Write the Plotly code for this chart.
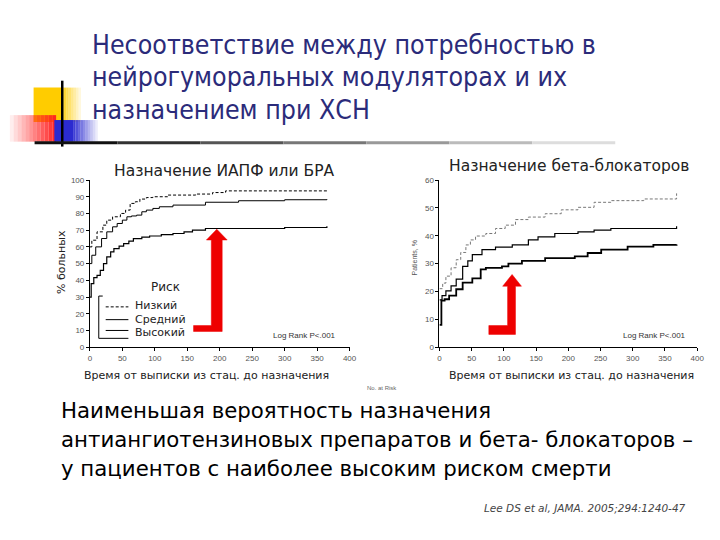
import plotly.graph_objects as go

# --- data (days, % patients) ---
acei_days_low = [0, 3, 11, 20, 26, 35, 47, 55, 62, 70, 77, 87, 97, 120, 163, 189, 209, 365]
acei_low = [60, 64, 69, 73, 76, 78, 80, 82, 86, 87, 88.6, 89.5, 90, 91, 91.6, 92.5, 93.5, 93.5]

acei_days_mid = [0, 3, 9, 18, 26, 35, 42, 50, 57, 64, 72, 80, 87, 97, 107, 128, 178, 229, 300, 365]
acei_mid = [50, 55, 60, 65, 69, 72, 74, 76, 78, 78.5, 79, 81, 82, 83, 84, 85, 86.7, 87.6, 88.2, 88.6]

acei_days_high = [0, 2, 6, 11, 16, 21, 26, 32, 37, 45, 52, 60, 67, 80, 92, 110, 128, 145, 158, 178, 229, 300, 365]
acei_high = [30, 38, 41.6, 43, 46, 50, 54, 57, 59, 60.5, 62, 63.5, 65, 65.8, 66.5, 67.3, 68, 69, 70, 71, 71, 71.6, 72.4]

bb_days_low = [0, 5, 10, 18, 26, 33, 41, 48, 56, 72, 87, 102, 118, 138, 164, 189, 215, 240, 266, 317, 368]
bb_low = [21, 23, 25.5, 28.5, 31.4, 34, 36.7, 38.5, 39.9, 40.8, 42.6, 43.8, 45.8, 46.7, 47.9, 49.3, 50.2, 52, 52.6, 53.2, 55.2]

bb_days_mid = [0, 4, 10, 18, 26, 36, 44, 51, 66, 87, 113, 138, 153, 179, 215, 240, 266, 353, 368]
bb_mid = [17, 18.5, 20.2, 22, 24.4, 29, 31, 33.2, 35, 35.9, 36.7, 38.5, 39.6, 40.8, 41.4, 42, 42.6, 42.6, 43.4]

bb_days_high = [0, 3, 8, 15, 26, 36, 51, 64, 72, 97, 107, 128, 164, 210, 230, 251, 292, 332, 368]
bb_high = [8, 16.7, 17.2, 18.5, 20.8, 23.2, 24.7, 27.9, 28.5, 29, 30, 31, 32, 32.6, 33.8, 35, 36.1, 36.7, 36.9]

risk_labels = ["Низкий", "Средний", "Высокий"]

W, H = 720, 540


def px(x):
    return x / W


def py(y):
    return 1 - y / H


fig = go.Figure()

# left chart: ACE inhibitors / ARB
fig.add_trace(go.Scatter(x=acei_days_low, y=acei_low, mode="lines", line_shape="hv",
                         line=dict(color="black", width=1, dash="3px,2px"), name=risk_labels[0],
                         xaxis="x", yaxis="y"))
fig.add_trace(go.Scatter(x=acei_days_mid, y=acei_mid, mode="lines", line_shape="hv",
                         line=dict(color="black", width=1), name=risk_labels[1],
                         xaxis="x", yaxis="y"))
fig.add_trace(go.Scatter(x=acei_days_high, y=acei_high, mode="lines", line_shape="hv",
                         line=dict(color="black", width=1.2), name=risk_labels[2],
                         xaxis="x", yaxis="y"))

# right chart: beta-blockers
fig.add_trace(go.Scatter(x=bb_days_low, y=bb_low, mode="lines", line_shape="hv",
                         line=dict(color="#777777", width=1, dash="3px,2px"), name=risk_labels[0],
                         xaxis="x2", yaxis="y2"))
fig.add_trace(go.Scatter(x=bb_days_mid, y=bb_mid, mode="lines", line_shape="hv",
                         line=dict(color="black", width=1.2), name=risk_labels[1],
                         xaxis="x2", yaxis="y2"))
fig.add_trace(go.Scatter(x=bb_days_high, y=bb_high, mode="lines", line_shape="hv",
                         line=dict(color="black", width=1.8), name=risk_labels[2],
                         xaxis="x2", yaxis="y2"))

tickfont = dict(family="Liberation Sans, Arial", size=8, color="#555555")
axis_common = dict(showline=True, linecolor="black", linewidth=1, ticks="outside",
                   ticklen=3, tickcolor="black", showgrid=False, zeroline=False,
                   tickfont=tickfont)

shapes = []

# slide decoration in the top-left corner (gradients as strips)
shapes.append(dict(type="rect", xref="paper", yref="paper", x0=px(32), x1=px(60), y0=py(120), y1=py(85),
                   fillcolor="#ffcc00", line_width=0, layer="below"))
for i in range(8):
    shapes.append(dict(type="rect", xref="paper", yref="paper", x0=px(60 + i * 2.5), x1=px(62.5 + i * 2.5),
                       y0=py(120), y1=py(85), fillcolor="#ffcc00", opacity=0.9 - i * 0.11,
                       line_width=0, layer="below"))
for i in range(12):
    shapes.append(dict(type="rect", xref="paper", yref="paper", x0=px(8 + i * 3.9), x1=px(11.9 + i * 3.9),
                       y0=py(140), y1=py(113), fillcolor="#ff2020", opacity=0.08 + i * 0.08,
                       line_width=0, layer="below"))
shapes.append(dict(type="rect", xref="paper", yref="paper", x0=px(53), x1=px(72), y0=py(140), y1=py(118),
                   fillcolor="#2b2bd0", line_width=0, layer="below"))
for i in range(10):
    shapes.append(dict(type="rect", xref="paper", yref="paper", x0=px(72 + i * 2.5), x1=px(74.5 + i * 2.5),
                       y0=py(140), y1=py(118), fillcolor="#2b2bd0", opacity=0.9 - i * 0.09,
                       line_width=0, layer="below"))
shapes.append(dict(type="line", xref="paper", yref="paper", x0=px(61), x1=px(61), y0=py(145), y1=py(78),
                   line=dict(color="black", width=2.5)))
greys = ["#111111", "#333333", "#555555", "#777777", "#999999", "#bbbbbb", "#dddddd"]
for i, g in enumerate(greys):
    shapes.append(dict(type="line", xref="paper", yref="paper", x0=px(33 + i * 84), x1=px(117 + i * 84),
                       y0=py(141), y1=py(141), line=dict(color=g, width=3)))

# red L-shaped arrows
def arrow_path(pts):
    return "M " + " L ".join(f"{px(a):.4f},{py(b):.4f}" for a, b in pts) + " Z"


left_arrow = [(194, 333), (223, 333), (223, 240), (228, 240), (217.5, 229), (207, 240), (212, 240),
              (212, 327), (194, 327)]
right_arrow = [(493, 336), (520, 336), (520, 287), (526, 287), (516.5, 275), (507, 287), (512, 287),
               (512, 327), (493, 327)]
for pts in (left_arrow, right_arrow):
    shapes.append(dict(type="path", xref="paper", yref="paper", path=arrow_path(pts),
                       fillcolor="#ee0000", line=dict(color="#ee0000", width=0.5)))

# legend bracket and samples
shapes.append(dict(type="line", xref="paper", yref="paper", x0=px(98), x1=px(98), y0=py(340), y1=py(297),
                   line=dict(color="black", width=1)))
shapes.append(dict(type="line", xref="paper", yref="paper", x0=px(98), x1=px(102), y0=py(297), y1=py(297),
                   line=dict(color="black", width=1)))
shapes.append(dict(type="line", xref="paper", yref="paper", x0=px(98), x1=px(128), y0=py(340), y1=py(340),
                   line=dict(color="black", width=1)))
for yy, dash in zip([308, 321, 332], ["3px,2px", "solid", "solid"]):
    shapes.append(dict(type="line", xref="paper", yref="paper", x0=px(105), x1=px(128), y0=py(yy), y1=py(yy),
                       line=dict(color="black", width=1, dash=dash)))

annotations = []


def note(text, x, y, font, xanchor="center", angle=0):
    annotations.append(dict(text=text, x=px(x), y=py(y), xref="paper", yref="paper",
                            xanchor=xanchor, yanchor="middle", showarrow=False,
                            textangle=angle, font=font))


title_font = dict(family="DejaVu Sans Condensed, Liberation Sans", size=26.5, color="#2b2b7a")
for text, yy in zip(["Несоответствие между потребностью в",
                     "нейрогуморальных модуляторах и их",
                     "назначением при ХСН"], [41, 74, 107]):
    note(text, 89, yy, title_font, xanchor="left")

sub_font = dict(family="DejaVu Sans, Liberation Sans", size=15.5, color="#222222")
note("Назначение ИАПФ или БРА", 225, 170, sub_font)
note("Назначение бета-блокаторов", 574, 165, sub_font)

xt_font = dict(family="DejaVu Sans, Liberation Sans", size=11, color="#222222")
note("Время от выписки из стац. до назначения", 207, 378, xt_font)
note("Время от выписки из стац. до назначения", 577, 378, xt_font)
note("% больных", 60, 262, xt_font, angle=-90)
note("Patients, %", 418, 258, dict(family="Liberation Sans, Arial", size=7, color="#555555"), angle=-90)

small = dict(family="Liberation Sans, Arial", size=8, color="#333333")
note("Log Rank P<.001", 306, 337, small)
note("Log Rank P<.001", 661, 337, small)
note("No. at Risk", 385, 391, dict(family="Liberation Sans, Arial", size=6, color="#666666"))

note("Риск", 166, 288, dict(family="DejaVu Sans, Liberation Sans", size=12, color="#222222"))
leg_font = dict(family="DejaVu Sans, Liberation Sans", size=11, color="#222222")
for lab, yy in zip(risk_labels, [307, 321, 334]):
    note(lab, 133, yy, leg_font, xanchor="left")

body_font = dict(family="DejaVu Sans, Liberation Sans", size=21.3, color="black")
for text, yy in zip(["Наименьшая вероятность назначения",
                     "антиангиотензиновых препаратов и бета- блокаторов –",
                     "у пациентов с наиболее высоким риском смерти"], [413, 443, 472]):
    note(text, 58, yy, body_font, xanchor="left")

note("<i>Lee DS et al, JAMA. 2005;294:1240-47</i>", 695, 513,
     dict(family="DejaVu Sans, Liberation Sans", size=10.5, color="#444444"), xanchor="right")

fig.update_layout(
    width=W, height=H,
    margin=dict(l=0, r=0, t=0, b=0),
    paper_bgcolor="white", plot_bgcolor="white",
    showlegend=False,
    xaxis=dict(domain=[px(89), px(352)], range=[0, 400], dtick=50, anchor="y", **axis_common),
    yaxis=dict(domain=[py(349), py(179)], range=[0, 100], dtick=10, anchor="x", **axis_common),
    xaxis2=dict(domain=[px(443), px(704)], range=[0, 400], dtick=50, anchor="y2", **axis_common),
    yaxis2=dict(domain=[py(349), py(179)], range=[0, 60], dtick=10, anchor="x2", **axis_common),
    shapes=shapes,
    annotations=annotations,
)

fig.write_html("out.html", config={"displayModeBar": False},
               post_script="document.body.style.margin='0';")
